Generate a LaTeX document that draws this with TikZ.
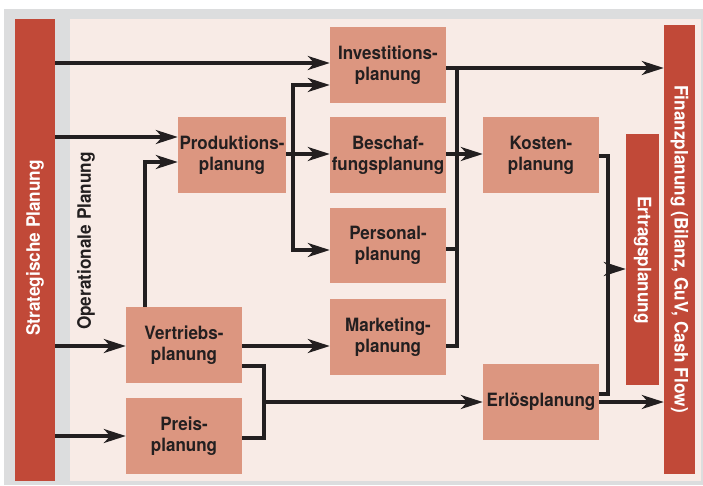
\documentclass[tikz,border=0pt]{standalone}
\usepackage{fontspec}
\setmainfont{TeX Gyre Heros}[FakeStretch=0.93]
\usetikzlibrary{arrows.meta}
\definecolor{redbar}{RGB}{193,73,56}
\definecolor{salmon}{RGB}{220,150,128}
\definecolor{pinkbg}{RGB}{248,235,230}
\definecolor{graybg}{RGB}{220,221,222}
\definecolor{ink}{RGB}{35,31,32}
\tikzset{
  box/.style={fill=salmon, inner sep=0pt, align=center, text=ink,
    font=\fontsize{18.3}{21}\selectfont\bfseries},
  bartext/.style={inner sep=0pt, text=white,
    font=\fontsize{18.5}{21}\selectfont\bfseries},
  bar/.style={fill=redbar, inner sep=0pt},
  ln/.style={draw=ink, line width=3.1pt},
  arr/.style={ln, -{Stealth[length=22pt,width=14pt,inset=6.5pt]}}
}
\begin{document}
\begin{tikzpicture}[x=1pt,y=-1pt]
\useasboundingbox (0,0) rectangle (703,485);
\fill[white] (0,0) rectangle (703,485);
\fill[graybg] (4,9) rectangle (703,485);
\fill[pinkbg] (70,19) rectangle (700.7,481);
% bars
\node[bar, minimum width=40pt, minimum height=462pt] (strat) at (35,250) {};
\node[bartext, rotate=90] (stratt) at (35,248) {Strategische Planung};
\node[bartext, text=ink, rotate=90] (oper) at (86,241) {Operationale Planung};
\node[bar, minimum width=31pt, minimum height=449pt] (fin) at (679.5,249.5) {};
\node[bartext, rotate=-90] (fint) at (679.5,249) {Finanzplanung (Bilanz, GuV, Cash Flow)};
\node[bar, minimum width=33pt, minimum height=251pt] (ertr) at (642.5,259.5) {};
\node[bartext, rotate=-90] (ertrt) at (642.5,260) {Ertragsplanung};
% boxes
\node[box, minimum width=116pt, minimum height=76pt] (inv) at (388,65) {Investitions-\\planung};
\node[box, minimum width=108pt, minimum height=76pt] (prod) at (232,155) {Produktions-\\planung};
\node[box, minimum width=116pt, minimum height=76pt] (besch) at (388,155) {Beschaf-\\fungsplanung};
\node[box, minimum width=116pt, minimum height=75pt] (pers) at (388,245.5) {Personal-\\planung};
\node[box, minimum width=116pt, minimum height=76pt] (mkt) at (388,337) {Marketing-\\planung};
\node[box, minimum width=116pt, minimum height=76pt] (kost) at (541,155) {Kosten-\\planung};
\node[box, minimum width=116pt, minimum height=76pt] (vert) at (184,345) {Vertriebs-\\planung};
\node[box, minimum width=116pt, minimum height=76pt] (preis) at (184,436) {Preis-\\planung};
\node[box, minimum width=116pt, minimum height=76pt] (erl) at (541,402) {Erlösplanung};
% junctions
\coordinate (jp) at (293,154);
\coordinate (jb) at (457,68);
\coordinate (jk) at (608,156);
\coordinate (jv) at (264,366);
% strategic arrows
\draw[arr] (strat.east |- 0,63) -- (inv.west |- 0,63);
\draw[arr] (strat.east |- 0,137) -- (prod.west |- 0,137);
\draw[arr] (strat.east |- 0,346) -- (vert.west |- 0,346);
\draw[arr] (strat.east |- 0,436) -- (preis.west |- 0,436);
% Vertrieb -> Produktion
\draw[arr] (vert.north -| 145,0) |- (prod.west |- 0,162);
% Produktion
\draw[arr] (prod.east |- jp) -- (besch.west |- jp);
\draw[arr] (jp) |- (inv.west |- 0,85);
\draw[arr] (jp) |- (pers.west |- 0,250);
% bus
\draw[arr] (inv.east |- jb) -- (fin.west |- jb);
\draw[ln] (jb) |- (mkt.east |- 0,346);
\draw[ln] (pers.east |- 0,249) -- (jb |- 0,249);
\draw[arr] (besch.east |- 0,154) -- (kost.west |- 0,154);
% Kosten / Erloes
\draw[ln] (kost.east |- jk) -- (jk) |- (erl.east |- 0,394);
\draw[arr] (jk |- 0,269) -- (ertr.west |- 0,269);
\draw[arr] (erl.east |- 0,402) -- (fin.west |- 0,402);
% Vertrieb
\draw[arr] (vert.east |- 0,346) -- (mkt.west |- 0,346);
\draw[ln] (vert.east |- jv) -- (jv) |- (preis.east |- 0,438);
\draw[arr] (jv |- 0,402) -- (erl.west |- 0,402);
\end{tikzpicture}
\end{document}
